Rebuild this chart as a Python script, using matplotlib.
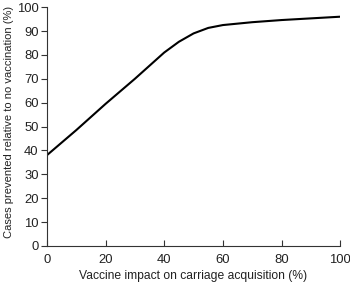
import matplotlib
matplotlib.use("Agg")
import matplotlib.pyplot as plt
import numpy as np

impact = [0, 10, 20, 30, 40, 45, 50, 55, 60, 70, 80, 90, 100]
prevented = [38, 48.5, 59.5, 70, 81, 85.5, 89, 91.3, 92.5, 93.7, 94.6, 95.3, 96]
xticks = [0, 20, 40, 60, 80, 100]
yticks = list(range(0, 101, 10))

plt.rcParams['font.family'] = ['Liberation Sans', 'DejaVu Sans']
fig = plt.figure(figsize=(3.5, 2.86), dpi=100)
ax = fig.add_axes([0.134, 0.140, 0.838, 0.835])
ax.plot(impact, prevented, color='black', lw=1.5)
ax.set_xlim(0, 100)
ax.set_ylim(0, 100)
ax.set_xticks(xticks)
ax.set_yticks(yticks)
ax.spines['top'].set_visible(False)
ax.spines['right'].set_visible(False)
for s in ['left', 'bottom']:
    ax.spines[s].set_color('#333333')
    ax.spines[s].set_linewidth(0.8)
ax.tick_params(axis='x', direction='in', length=4, labelsize=9.4, pad=6, color='#333333', labelcolor='#222222')
ax.tick_params(axis='y', direction='out', length=4, labelsize=9.4, pad=2, color='#333333', labelcolor='#222222')
ax.set_xlabel('Vaccine impact on carriage acquisition (%)', fontsize=8.7, color='#222222')
ax.set_ylabel('Cases prevented relative to no vaccination (%)', fontsize=8.0, color='#222222')
ax.xaxis.set_label_coords(0.5, -0.102)
ax.yaxis.set_label_coords(-0.113, 0.52)
fig.savefig('out.png', dpi=100)
